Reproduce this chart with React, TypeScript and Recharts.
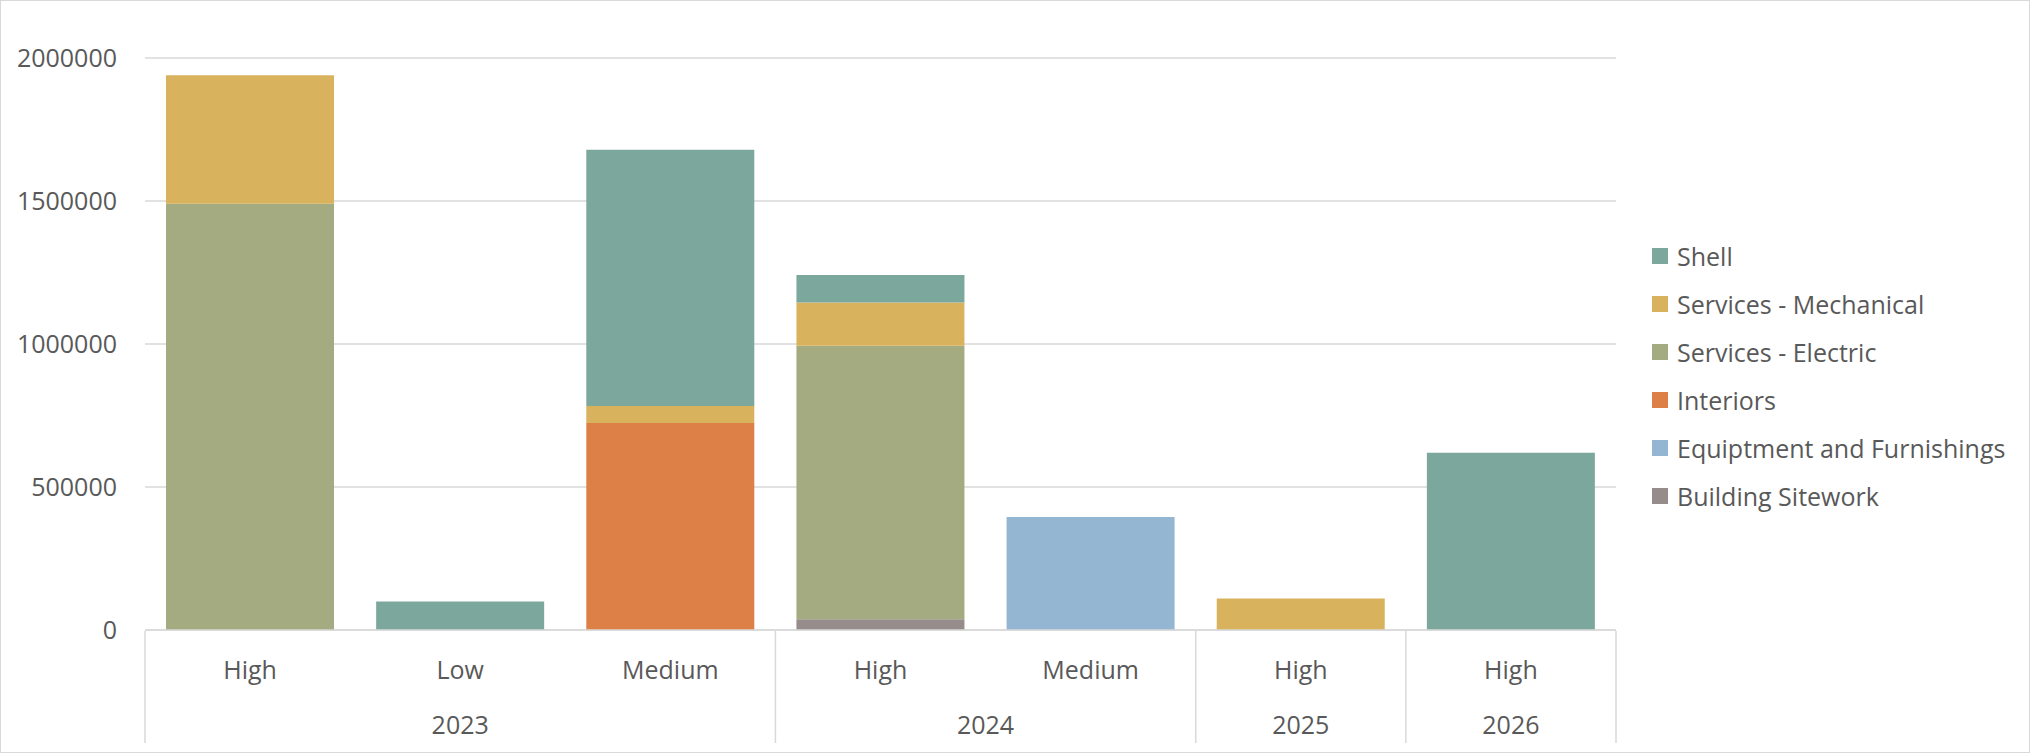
import React from "react"
import { BarChart, Bar, XAxis, YAxis, CartesianGrid } from "recharts"

const levels = ["High", "Low", "Medium", "High", "Medium", "High", "High"]
const years = ["2023", "2023", "2023", "2024", "2024", "2025", "2026"]

const shell = [0, 100000, 896000, 96000, 0, 0, 620000]
const mechanical = [450000, 0, 59000, 151000, 0, 110000, 0]
const electric = [1490000, 0, 0, 956000, 0, 0, 0]
const interiors = [0, 0, 724000, 0, 0, 0, 0]
const equipment = [0, 0, 0, 0, 395000, 0, 0]
const sitework = [0, 0, 0, 38000, 0, 0, 0]

const yTicks = [0, 500000, 1000000, 1500000, 2000000]

// stacking order bottom-up; legend is shown reversed
const series = [
  { key: "sitework", name: "Building Sitework", color: "#968c8c", values: sitework },
  { key: "equipment", name: "Equiptment and Furnishings", color: "#94b6d2", values: equipment },
  { key: "interiors", name: "Interiors", color: "#dd8047", values: interiors },
  { key: "electric", name: "Services - Electric", color: "#a5ab81", values: electric },
  { key: "mechanical", name: "Services - Mechanical", color: "#d8b25c", values: mechanical },
  { key: "shell", name: "Shell", color: "#7ba79d", values: shell },
]

const data = levels.map((level, i) => {
  const row: Record<string, any> = { id: `${years[i]}-${level}-${i}`, level, year: years[i] }
  series.forEach((s) => (row[s.key] = s.values[i]))
  return row
})

const W = 2030
const H = 753
const PLOT_LEFT = 145
const PLOT_RIGHT = 1616
const PLOT_TOP = 58
const PLOT_BOTTOM = 630
const BAND = (PLOT_RIGHT - PLOT_LEFT) / data.length
const TEXT = "#595959"
const LINE = "#d9d9d9"
const FONT = "'Open Sans', sans-serif"

function CategoryTick(props: any) {
  const { x, index } = props
  const i = index as number
  const year = years[i]
  const first = i === 0 || years[i - 1] !== year
  const last = i === data.length - 1
  let span = 0
  if (first) {
    while (i + span < years.length && years[i + span] === year) span++
  }
  const left = x - BAND / 2
  return (
    <g>
      <text x={x} y={PLOT_BOTTOM + 38} textAnchor="middle" dominantBaseline="central" fontSize={25} fill={TEXT} fontFamily={FONT}>
        {levels[i]}
      </text>
      {first && (
        <>
          <line x1={left} x2={left} y1={PLOT_BOTTOM} y2={PLOT_BOTTOM + 112} stroke={LINE} strokeWidth={1.5} />
          <text x={left + (span * BAND) / 2} y={PLOT_BOTTOM + 93} textAnchor="middle" dominantBaseline="central" fontSize={25} fill={TEXT} fontFamily={FONT}>
            {year}
          </text>
        </>
      )}
      {last && (
        <line x1={x + BAND / 2} x2={x + BAND / 2} y1={PLOT_BOTTOM} y2={PLOT_BOTTOM + 112} stroke={LINE} strokeWidth={1.5} />
      )}
    </g>
  )
}

function LegendBox() {
  const items = [...series].reverse()
  return (
    <div style={{ position: "absolute", left: 1651, top: 231, fontFamily: FONT, fontSize: 25, color: TEXT }}>
      {items.map((s) => (
        <div key={s.key} style={{ display: "flex", alignItems: "center", height: 48, whiteSpace: "nowrap" }}>
          <span style={{ width: 16, height: 16, background: s.color, marginRight: 9, display: "inline-block" }} />
          <span>{s.name}</span>
        </div>
      ))}
    </div>
  )
}

export default function App() {
  return (
    <div style={{ position: "absolute", left: 0, top: 0, width: W, height: H, border: `1px solid ${LINE}`, boxSizing: "border-box", background: "#fff" }}>
      <BarChart
        width={W - 2}
        height={H - 2}
        data={data}
        margin={{ top: PLOT_TOP - 1, right: W - PLOT_RIGHT - 1, bottom: 0, left: 0 }}
        barCategoryGap="10%"
      >
        <CartesianGrid vertical={false} stroke={LINE} strokeWidth={1.5} />
        <XAxis
          dataKey="id"
          interval={0}
          tickLine={false}
          axisLine={{ stroke: LINE, strokeWidth: 1.5 }}
          tick={<CategoryTick />}
          height={H - 2 - (PLOT_BOTTOM - 1)}
        />
        <YAxis
          width={PLOT_LEFT - 1}
          domain={[0, 2000000]}
          ticks={yTicks}
          axisLine={false}
          tickLine={false}
          tickMargin={22}
          tick={{ fontSize: 25, fill: TEXT, fontFamily: FONT }}
        />
        {series.map((s) => (
          <Bar key={s.key} dataKey={s.key} name={s.name} stackId="a" fill={s.color} isAnimationActive={false} />
        ))}
      </BarChart>
      <LegendBox />
    </div>
  )
}
